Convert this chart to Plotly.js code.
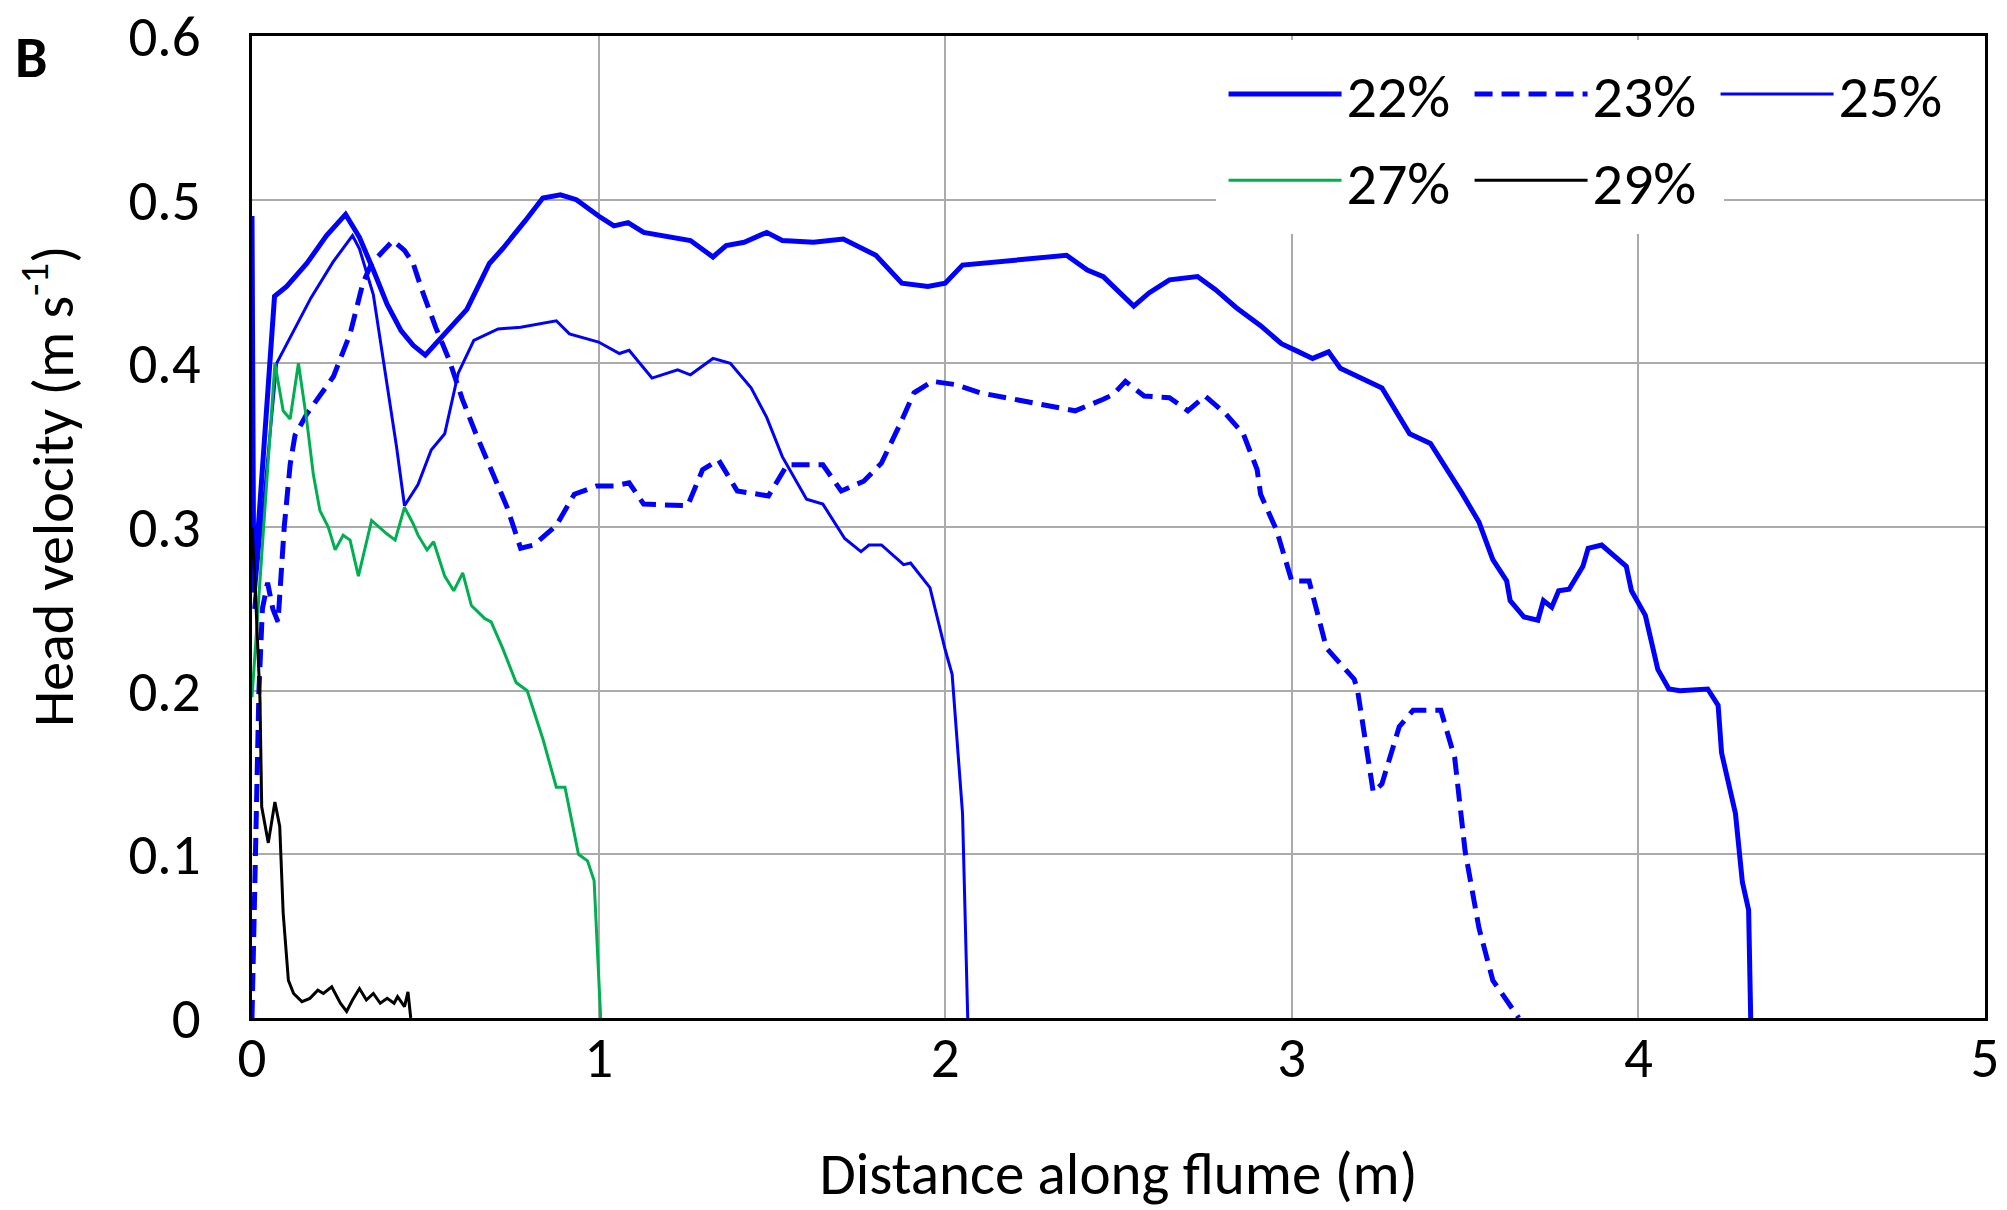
<!DOCTYPE html>
<html>
<head>
<meta charset="utf-8">
<script src="https://cdn.plot.ly/plotly-3.0.1.min.js"></script>
<style>
  html, body { margin: 0; padding: 0; background: #ffffff; }
  #chart { width: 2007px; height: 1210px; }
</style>
</head>
<body>
<div id="chart"></div>
<script>
// ---- data ----
var seriesNames = ["22%", "23%", "25%", "27%", "29%"];

var x22 = [0, 0.005, 0.065, 0.10, 0.158, 0.215, 0.27, 0.31, 0.35, 0.39, 0.43, 0.465, 0.50, 0.556, 0.62, 0.685, 0.723, 0.788, 0.839, 0.89, 0.936, 1.0, 1.044, 1.085, 1.13, 1.265, 1.33, 1.368, 1.42, 1.485, 1.53, 1.62, 1.706, 1.80, 1.875, 1.95, 2.0, 2.05, 2.35, 2.41, 2.456, 2.544, 2.588, 2.647, 2.728, 2.78, 2.84, 2.91, 2.97, 3.02, 3.06, 3.106, 3.14, 3.26, 3.34, 3.40, 3.45, 3.49, 3.54, 3.58, 3.62, 3.63, 3.67, 3.71, 3.726, 3.75, 3.77, 3.80, 3.84, 3.855, 3.894, 3.926, 3.965, 3.98, 4.02, 4.056, 4.088, 4.12, 4.20, 4.23, 4.24, 4.28, 4.30, 4.318, 4.324];
var y22 = [0.49, 0.26, 0.441, 0.447, 0.461, 0.478, 0.491, 0.477, 0.457, 0.436, 0.42, 0.411, 0.405, 0.418, 0.433, 0.461, 0.470, 0.487, 0.501, 0.503, 0.500, 0.490, 0.484, 0.486, 0.480, 0.475, 0.465, 0.472, 0.474, 0.480, 0.475, 0.474, 0.476, 0.466, 0.449, 0.447, 0.449, 0.460, 0.466, 0.457, 0.453, 0.435, 0.443, 0.451, 0.453, 0.445, 0.434, 0.423, 0.412, 0.407, 0.403, 0.407, 0.397, 0.385, 0.357, 0.351, 0.335, 0.321, 0.303, 0.280, 0.267, 0.255, 0.245, 0.243, 0.255, 0.251, 0.261, 0.262, 0.276, 0.287, 0.289, 0.283, 0.276, 0.261, 0.246, 0.213, 0.201, 0.200, 0.201, 0.191, 0.162, 0.125, 0.083, 0.066, 0];

var x23 = [0, 0.01, 0.02, 0.03, 0.045, 0.06, 0.075, 0.093, 0.11, 0.124, 0.158, 0.235, 0.283, 0.32, 0.345, 0.38, 0.407, 0.44, 0.465, 0.49, 0.53, 0.569, 0.607, 0.646, 0.685, 0.736, 0.775, 0.813, 0.878, 0.93, 0.994, 1.044, 1.088, 1.13, 1.257, 1.30, 1.346, 1.40, 1.49, 1.544, 1.647, 1.70, 1.765, 1.816, 1.87, 1.91, 1.963, 2.03, 2.10, 2.265, 2.375, 2.456, 2.485, 2.52, 2.574, 2.647, 2.70, 2.75, 2.81, 2.86, 2.90, 2.91, 2.956, 3.0, 3.05, 3.10, 3.18, 3.19, 3.235, 3.26, 3.31, 3.35, 3.43, 3.47, 3.50, 3.54, 3.565, 3.58, 3.655];
var y23 = [0, 0.10, 0.20, 0.25, 0.266, 0.25, 0.242, 0.30, 0.338, 0.356, 0.369, 0.392, 0.418, 0.449, 0.461, 0.469, 0.475, 0.469, 0.461, 0.445, 0.422, 0.402, 0.378, 0.357, 0.338, 0.312, 0.287, 0.289, 0.301, 0.320, 0.325, 0.325, 0.327, 0.314, 0.313, 0.335, 0.341, 0.322, 0.319, 0.338, 0.338, 0.322, 0.328, 0.339, 0.363, 0.382, 0.389, 0.387, 0.382, 0.375, 0.371, 0.378, 0.381, 0.389, 0.380, 0.379, 0.371, 0.380, 0.369, 0.357, 0.335, 0.320, 0.298, 0.267, 0.267, 0.226, 0.207, 0.200, 0.138, 0.143, 0.178, 0.188, 0.188, 0.159, 0.102, 0.055, 0.035, 0.023, 0];

var x25 = [0.005, 0.071, 0.17, 0.234, 0.29, 0.31, 0.35, 0.39, 0.417, 0.44, 0.479, 0.517, 0.556, 0.595, 0.64, 0.71, 0.775, 0.878, 0.916, 1.0, 1.06, 1.088, 1.154, 1.228, 1.265, 1.33, 1.38, 1.44, 1.485, 1.53, 1.60, 1.647, 1.71, 1.757, 1.78, 1.816, 1.88, 1.90, 1.956, 2.0, 2.02, 2.05, 2.065];
var y25 = [0.25, 0.40, 0.44, 0.462, 0.478, 0.47, 0.442, 0.387, 0.349, 0.313, 0.326, 0.347, 0.357, 0.394, 0.414, 0.421, 0.422, 0.426, 0.418, 0.413, 0.406, 0.408, 0.391, 0.396, 0.393, 0.403, 0.400, 0.385, 0.367, 0.343, 0.317, 0.314, 0.293, 0.285, 0.289, 0.289, 0.277, 0.278, 0.263, 0.225, 0.21, 0.125, 0];

var x27 = [0, 0.066, 0.09, 0.11, 0.134, 0.158, 0.177, 0.196, 0.22, 0.24, 0.263, 0.283, 0.307, 0.345, 0.388, 0.413, 0.44, 0.465, 0.479, 0.505, 0.524, 0.556, 0.582, 0.608, 0.633, 0.672, 0.69, 0.723, 0.762, 0.794, 0.84, 0.878, 0.903, 0.942, 0.968, 0.987, 1.006];
var y27 = [0.196, 0.40, 0.371, 0.366, 0.40, 0.365, 0.332, 0.310, 0.300, 0.286, 0.295, 0.292, 0.270, 0.304, 0.296, 0.292, 0.312, 0.302, 0.295, 0.286, 0.291, 0.270, 0.261, 0.272, 0.252, 0.244, 0.242, 0.226, 0.205, 0.200, 0.170, 0.141, 0.141, 0.100, 0.096, 0.084, 0];

var x29 = [0, 0.01, 0.023, 0.028, 0.047, 0.066, 0.08, 0.09, 0.105, 0.12, 0.144, 0.167, 0.19, 0.206, 0.23, 0.255, 0.273, 0.29, 0.31, 0.33, 0.35, 0.37, 0.39, 0.41, 0.42, 0.44, 0.45, 0.458];
var y29 = [0.30, 0.26, 0.195, 0.129, 0.107, 0.132, 0.117, 0.064, 0.023, 0.015, 0.010, 0.012, 0.017, 0.015, 0.019, 0.009, 0.004, 0.011, 0.018, 0.011, 0.015, 0.009, 0.012, 0.009, 0.013, 0.007, 0.016, 0];

var xTicks = [0, 1, 2, 3, 4, 5];
var xTickText = ["0", "1", "2", "3", "4", "5"];
var yTicks = [0, 0.1, 0.2, 0.3, 0.4, 0.5, 0.6];
var yTickText = ["0", "0.1", "0.2", "0.3", "0.4", "0.5", "0.6"];

// ---- chart ----
var FONT = "Carlito, Lato, 'Liberation Sans', sans-serif";
var BLUE = "#0000ff", GREEN = "#00b050", BLACK = "#000000";

var traces = [
  {x: x22, y: y22, name: seriesNames[0], mode: "lines", legend: "legend", line: {color: BLUE, width: 5}},
  {x: x23, y: y23, name: seriesNames[1], mode: "lines", legend: "legend", line: {color: BLUE, width: 5, dash: "18px,9px"}},
  {x: x25, y: y25, name: seriesNames[2], mode: "lines", legend: "legend", line: {color: BLUE, width: 3}},
  {x: x27, y: y27, name: seriesNames[3], mode: "lines", legend: "legend2", line: {color: GREEN, width: 3}},
  {x: x29, y: y29, name: seriesNames[4], mode: "lines", legend: "legend2", line: {color: BLACK, width: 3}}
];

var legendCommon = {
  orientation: "h", x: 0.556, xanchor: "left", yanchor: "middle",
  bgcolor: "#ffffff", bordercolor: "#ffffff", borderwidth: 8,
  font: {family: FONT, size: 60, color: "#000"},
  itemwidth: 113, entrywidth: 118, entrywidthmode: "pixels",
  itemclick: false, itemdoubleclick: false, traceorder: "normal"
};

var layout = {
  width: 2007, height: 1210,
  margin: {l: 252, r: 22, t: 36, b: 192},
  paper_bgcolor: "#ffffff", plot_bgcolor: "#ffffff",
  font: {family: FONT, color: "#000"},
  showlegend: true,
  legend: Object.assign({}, legendCommon, {y: 0.941}),
  legend2: Object.assign({}, legendCommon, {y: 0.853}),
  xaxis: {
    range: [0, 5], tickvals: xTicks, ticktext: xTickText,
    showgrid: true, gridcolor: "#ababab", gridwidth: 2,
    zeroline: false, showline: true, linecolor: "#000", linewidth: 3, mirror: true,
    ticks: "", ticklabelstandoff: -12,
    tickfont: {family: FONT, size: 57, color: "#000"},
    title: {text: "Distance along flume (m)", font: {family: FONT, size: 59, color: "#000"}, standoff: 80}
  },
  yaxis: {
    range: [0, 0.6], tickvals: yTicks, ticktext: yTickText,
    showgrid: true, gridcolor: "#ababab", gridwidth: 2,
    zeroline: false, showline: true, linecolor: "#000", linewidth: 3, mirror: true,
    ticks: "", ticklabelstandoff: 37,
    tickfont: {family: FONT, size: 57, color: "#000"}
  },
  annotations: [
    {text: "<b>B</b>", xref: "paper", yref: "paper", x: -0.127, y: 0.978,
     xanchor: "center", yanchor: "middle", showarrow: false,
     font: {family: FONT, size: 58, color: "#000"}},
    {text: "Head velocity (m s<sup>-1</sup>)", xref: "paper", yref: "paper", x: -0.117, y: 0.542,
     xanchor: "center", yanchor: "middle", textangle: -90, showarrow: false,
     font: {family: FONT, size: 58, color: "#000"}}
  ]
};

Plotly.newPlot("chart", traces, layout, {displayModeBar: false, staticPlot: true});
</script>
</body>
</html>
